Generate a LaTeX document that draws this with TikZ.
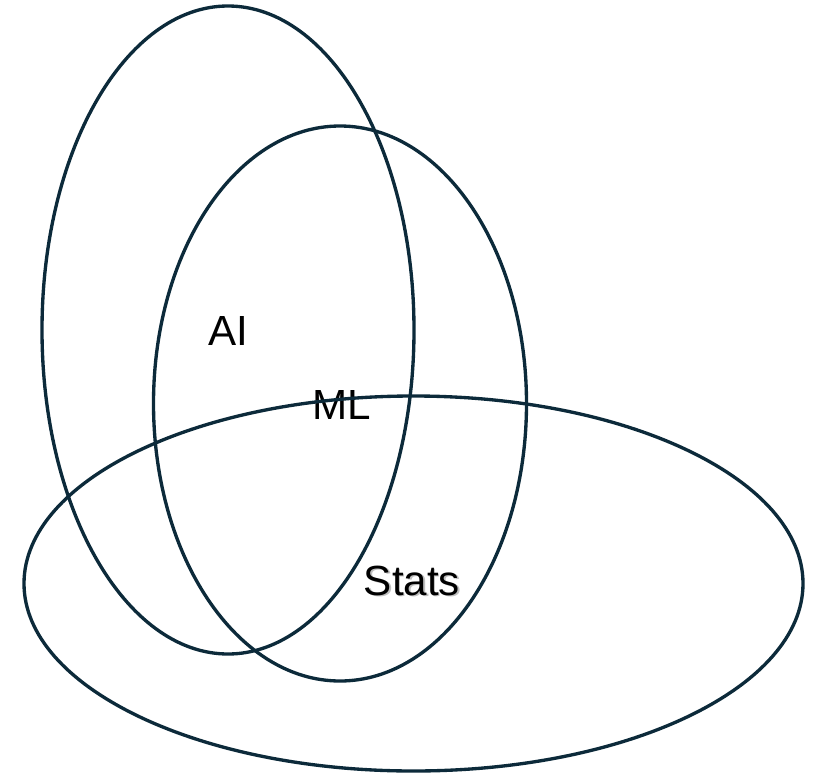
\documentclass[tikz,border=0pt]{standalone}
\usepackage{fontspec}
\setmainfont{Liberation Sans}
\definecolor{navy}{HTML}{0C2A3A}
\tikzset{
  venn/.style={draw=navy,line width=1.9pt},
  lbl/.style={anchor=base,inner sep=0pt,font=\fontsize{24}{28}\selectfont}
}
\begin{document}
\begin{tikzpicture}[x=0.02cm,y=-0.02cm]
  \useasboundingbox (0,0) rectangle (818,774);
  % labels
  \node[lbl] (ai) at (228,345) {AI};
  \node[lbl] (ml) at (342,419) {ML};
  \node[lbl,text=black!25] (statsshadow) at (413.5,596.5) {Stats};
  \node[lbl] (stats) at (412,595) {Stats};
  % sets
  \draw[venn] (228,330) ellipse [x radius=186, y radius=324];
  \draw[venn] (340,403.5) ellipse [x radius=186.5, y radius=277.5];
  \draw[venn] (413.5,583.5) ellipse [x radius=389.5, y radius=187.5];
\end{tikzpicture}
\end{document}
